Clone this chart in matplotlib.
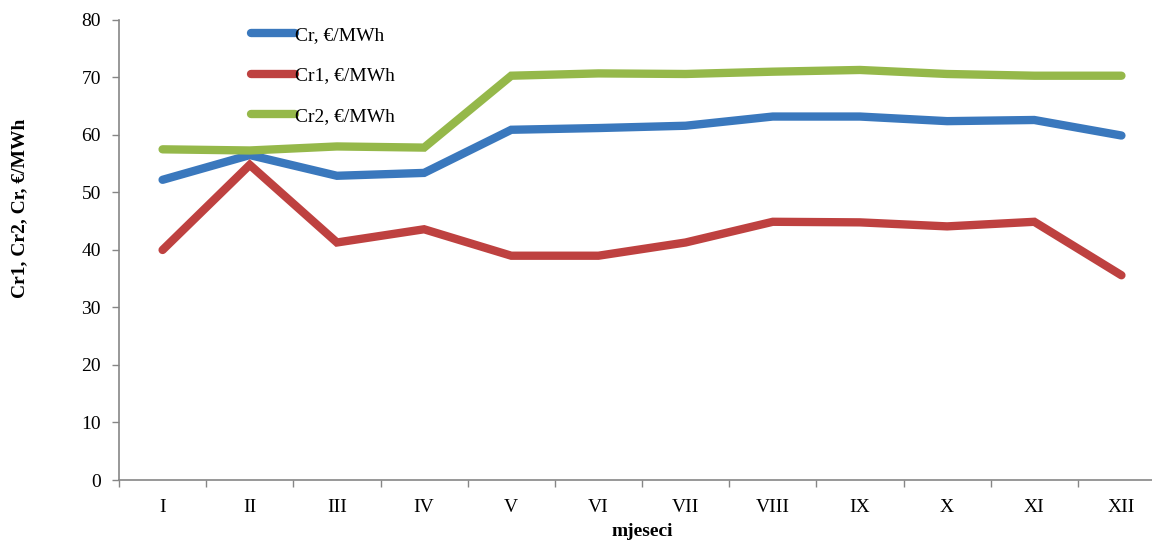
import matplotlib
matplotlib.use("Agg")
import matplotlib.pyplot as plt
import numpy as np

plt.rcParams['font.family'] = ['Liberation Serif', 'DejaVu Serif']

months = ["I", "II", "III", "IV", "V", "VI", "VII", "VIII", "IX", "X", "XI", "XII"]
cr = [52.2, 56.5, 52.9, 53.4, 60.9, 61.2, 61.6, 63.2, 63.2, 62.4, 62.6, 59.9]
cr1 = [40.0, 54.8, 41.3, 43.6, 39.0, 39.0, 41.3, 44.9, 44.8, 44.1, 44.9, 35.6]
cr2 = [57.5, 57.3, 58.0, 57.8, 70.3, 70.7, 70.6, 71.0, 71.3, 70.6, 70.3, 70.3]

series_labels = ["Cr, €/MWh", "Cr1, €/MWh", "Cr2, €/MWh"]
colors = ["#3a78bd", "#be4140", "#95b84a"]

fig = plt.figure(figsize=(11.52, 5.4), dpi=100)
ax = fig.add_axes([0.1033, 0.1111, 0.908, 0.852])
ax.patch.set_visible(False)

x = np.arange(len(months)) + 0.5
for vals, lab, col in zip([cr, cr1, cr2], series_labels, colors):
    ax.plot(x, vals, color=col, lw=6, solid_capstyle='round',
            solid_joinstyle='miter', label=lab)

ax.set_xlim(0, len(months))
ax.set_ylim(0, 80)
ax.set_yticks(np.arange(0, 81, 10))
ax.set_xticks(np.arange(0, len(months) + 1))
ax.set_xticklabels([])
ax.set_xticks(x, minor=True)
ax.set_xticklabels(months, minor=True)

spine_col = "#868686"
for s in ["top", "right"]:
    ax.spines[s].set_visible(False)
for s in ["left", "bottom"]:
    ax.spines[s].set_color(spine_col)
    ax.spines[s].set_linewidth(1.2)

ax.tick_params(axis='y', which='major', direction='out', length=5, width=1,
               color=spine_col, labelsize=14, pad=8)
ax.tick_params(axis='x', which='major', direction='out', length=5, width=1,
               color=spine_col)
ax.tick_params(axis='x', which='minor', length=0, labelsize=14, pad=14)

ax.set_xlabel("mjeseci", fontsize=14, fontweight='bold')
ax.xaxis.set_label_coords(0.5, -0.094)
ax.set_ylabel("Cr1, Cr2, Cr, €/MWh", fontsize=14, fontweight='bold')
ax.yaxis.set_label_coords(-0.087, 0.59)

leg = ax.legend(loc='upper left', bbox_to_anchor=(0.109, 1.024), frameon=False,
                fontsize=14, handlelength=2.3, handletextpad=0.0,
                labelspacing=1.18)

fig.savefig("out.png", dpi=100)
